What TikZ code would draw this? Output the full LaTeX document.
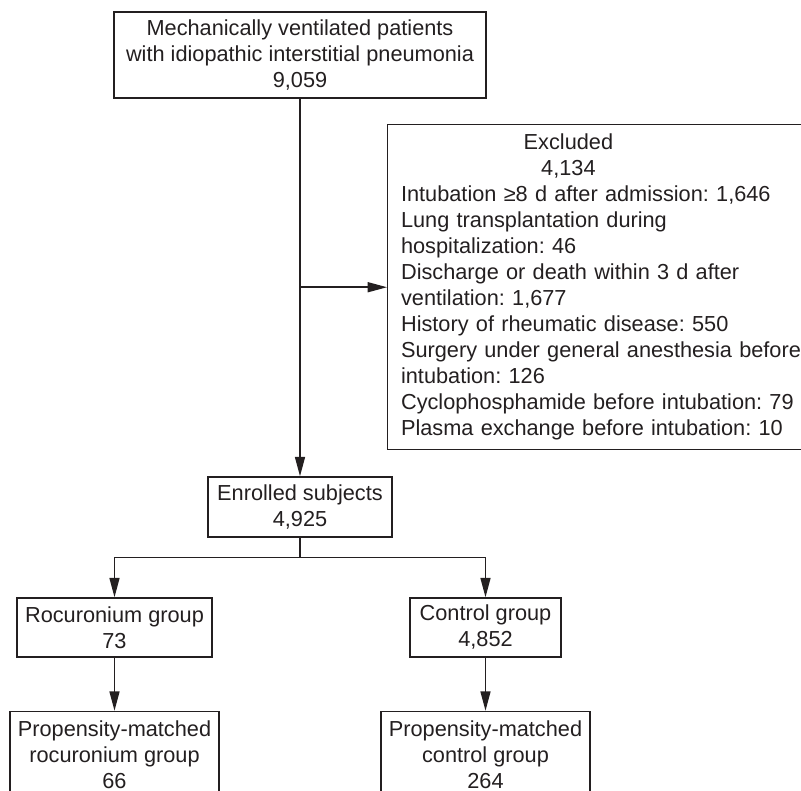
\documentclass[tikz,border=0pt]{standalone}
\usepackage{fontspec}
\setmainfont{Liberation Sans}
\usepackage{tikz}
\usetikzlibrary{arrows.meta, positioning}
\definecolor{flowgray}{RGB}{35, 31, 32}
\frenchspacing

\begin{document}
\begin{tikzpicture}[
  x=0.75pt, y=-0.75pt,
  every node/.style={font=\fontsize{16.3pt}{19.5pt}\selectfont, text=flowgray},
  box/.style={
    draw=flowgray, line width=1.1pt, align=center,
    inner sep=0pt
  },
  arrow/.style={-{Triangle[length=14.5pt, width=7.5pt]}, line width=1.1pt, color=flowgray},
  link/.style={line width=1.1pt, color=flowgray}
]
  \useasboundingbox (0,0) rectangle (801,791);

  % Colonna principale
  \node[box, minimum width=279pt, minimum height=64.5pt] (cohort) at (300,55) {Mechanically ventilated patients\\with idiopathic interstitial pneumonia\\9,059};
  \node[box, anchor=north west, align=left, text width=315pt, inner xsep=10pt, minimum height=243.75pt] (excl) at (387,124) {\makebox[251pt]{Excluded}\\\makebox[251pt]{4,134}\\Intubation ≥8 d after admission: 1,646\\Lung transplantation during\\hospitalization: 46\\Discharge or death within 3 d after\\ventilation: 1,677\\History of rheumatic disease: 550\\Surgery under general anesthesia before\\intubation: 126\\Cyclophosphamide before intubation: 79\\Plasma exchange before intubation: 10};
  \node[box, minimum width=138pt, minimum height=45pt] (enrolled) at (300,507) {Enrolled subjects\\4,925};

  % Gruppi
  \node[box, minimum width=146.25pt, minimum height=44.25pt] (roc) at (114.5,627.5) {Rocuronium group\\73};
  \node[box, minimum width=113.25pt, minimum height=44.25pt] (ctrl) at (485.5,627.5) {Control group\\4,852};
  \node[box, below=39.75pt of roc, minimum width=156.75pt, minimum height=64.5pt] (rocmatch) {Propensity-matched\\rocuronium group\\66};
  \node[box, below=39.75pt of ctrl, minimum width=156.75pt, minimum height=64.5pt] (ctrlmatch) {Propensity-matched\\control group\\264};

  % Frecce
  \draw[arrow] (cohort) -- (enrolled);
  \coordinate (split) at (cohort.south |- excl.west);
  \draw[arrow] (split) -- (excl.west);
  \draw[link] (enrolled.south) -- ++(0,20) coordinate (fork);
  \draw[arrow] (fork) -| (roc);
  \draw[arrow] (fork) -| (ctrl);
  \draw[arrow] (roc) -- (rocmatch);
  \draw[arrow] (ctrl) -- (ctrlmatch);

\end{tikzpicture}
\end{document}
